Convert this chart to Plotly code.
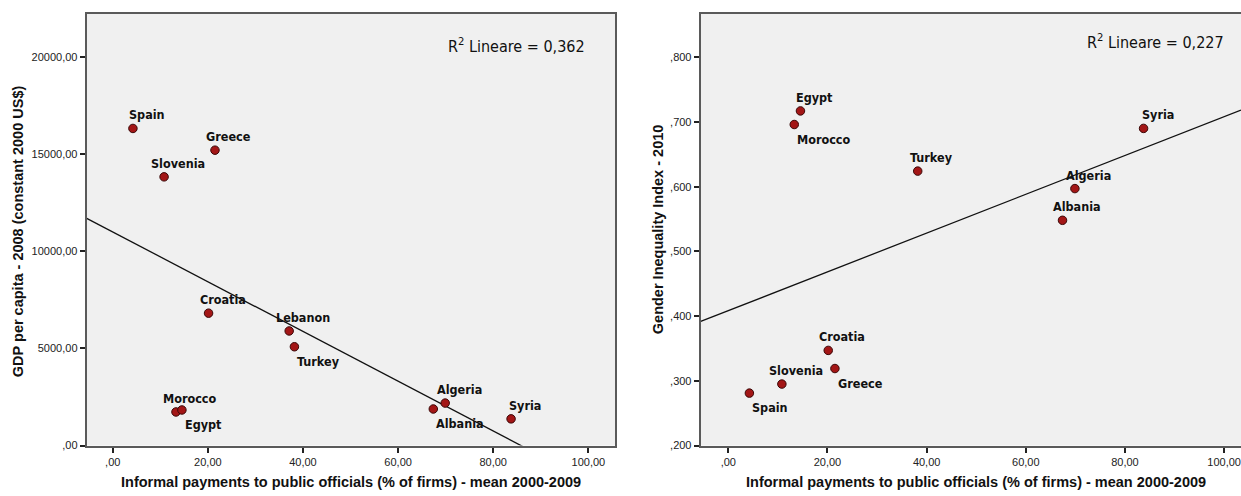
import numpy as np
import plotly.graph_objects as go
from plotly.subplots import make_subplots

# Informal payments to public officials (% of firms), mean 2000-2009
countries_gdp = ["Spain", "Greece", "Slovenia", "Croatia", "Lebanon", "Turkey",
                 "Morocco", "Egypt", "Algeria", "Albania", "Syria"]
payments_gdp = [4.25, 21.5, 10.8, 20.15, 37.1, 38.2, 13.3, 14.55, 69.9, 67.4, 83.75]
# GDP per capita 2008 (constant 2000 US$)
gdp_2008 = [16336, 15216, 13842, 6819, 5903, 5089, 1730, 1832, 2188, 1883, 1374]

countries_gii = ["Egypt", "Morocco", "Syria", "Turkey", "Algeria", "Albania",
                 "Croatia", "Greece", "Slovenia", "Spain"]
payments_gii = [14.55, 13.3, 83.75, 38.2, 69.9, 67.4, 20.15, 21.5, 10.8, 4.25]
# Gender Inequality Index 2010
gii_2010 = [0.717, 0.696, 0.690, 0.624, 0.597, 0.548, 0.347, 0.319, 0.295, 0.281]

r2_labels = ["R<sup>2</sup> Lineare = 0,362", "R<sup>2</sup> Lineare = 0,227"]

x_ticks = [0, 20, 40, 60, 80, 100]
x_ticktext = [",00", "20,00", "40,00", "60,00", "80,00", "100,00"]
gdp_ticks = [0, 5000, 10000, 15000, 20000]
gdp_ticktext = [",00", "5000,00", "10000,00", "15000,00", "20000,00"]
gii_ticks = [0.2, 0.3, 0.4, 0.5, 0.6, 0.7, 0.8]
gii_ticktext = [",200", ",300", ",400", ",500", ",600", ",700", ",800"]

# label placement relative to each point: "u" above, "d" below-right
place_gdp = ["u", "u", "u", "u", "u", "d", "u", "d", "u", "d", "u"]
place_gii = ["u", "d", "u", "u", "u", "u", "u", "d", "u", "d"]

W, H = 1241, 496
BG = "#f0f0f0"
FRAME = "#5a5a5a"
MARK = "#a31616"
LABEL_FONT = '"DejaVu Sans Condensed", "Liberation Sans Narrow", sans-serif'
TEXT_FONT = '"Liberation Sans", Arial, sans-serif'

x1_range = [-5.47, 105.6]
x2_range = [-5.57, 103.4]
y1_range = [0, 22240]
y2_range = [0.2, 0.867]

fig = make_subplots(rows=1, cols=2)

def add_panel(col, xs, ys, xr):
    slope, intercept = np.polyfit(xs, ys, 1)
    lx = np.array(xr)
    fig.add_trace(go.Scatter(x=lx, y=slope * lx + intercept, mode="lines",
                             line=dict(color="#111111", width=1.3),
                             hoverinfo="skip", showlegend=False), row=1, col=col)
    fig.add_trace(go.Scatter(x=xs, y=ys, mode="markers",
                             marker=dict(size=8.5, color=MARK,
                                         line=dict(color="#3a0808", width=1)),
                             showlegend=False), row=1, col=col)

add_panel(1, payments_gdp, gdp_2008, x1_range)
add_panel(2, payments_gii, gii_2010, x2_range)

label_font = dict(family=LABEL_FONT, size=12.5, color="#111111", weight="bold")

def add_labels(xref, yref, names, xs, ys, place):
    for n, x, y, p in zip(names, xs, ys, place):
        if p == "u":
            kw = dict(xanchor="center", yanchor="bottom", xshift=14, yshift=4)
        else:
            kw = dict(xanchor="left", yanchor="top", xshift=1, yshift=-5)
        fig.add_annotation(x=x, y=y, xref=xref, yref=yref, text=n, showarrow=False,
                           font=label_font, **kw)

add_labels("x", "y", countries_gdp, payments_gdp, gdp_2008, place_gdp)
add_labels("x2", "y2", countries_gii, payments_gii, gii_2010, place_gii)

# plot-area geometry in pixels
dom1 = [86.7 / W, 615 / W]
dom2 = [700.7 / W, 1.0]
ydom = [(H - 451) / H, (H - 14) / H]

axis_common = dict(showgrid=False, zeroline=False, showline=True, linecolor=FRAME,
                   linewidth=2, ticks="outside", ticklen=5, tickwidth=1.5,
                   tickcolor="#222222",
                   tickfont=dict(family=TEXT_FONT, size=11, color="#222222"))

fig.update_layout(
    width=W, height=H, margin=dict(l=0, r=0, t=0, b=0),
    paper_bgcolor="white", plot_bgcolor=BG,
    xaxis=dict(domain=dom1, range=x1_range, tickvals=x_ticks, ticktext=x_ticktext,
               mirror=True, **axis_common),
    yaxis=dict(domain=ydom, range=y1_range, tickvals=gdp_ticks, ticktext=gdp_ticktext,
               mirror=True, **axis_common),
    xaxis2=dict(domain=dom2, range=x2_range, tickvals=x_ticks, ticktext=x_ticktext,
                mirror=True, **axis_common),
    yaxis2=dict(domain=ydom, range=y2_range, tickvals=gii_ticks, ticktext=gii_ticktext,
                mirror=False, **axis_common),
)

title_font = dict(family=TEXT_FONT, size=14.5, color="#111111", weight="bold")
xtitle = "Informal payments to public officials (% of firms) - mean 2000-2009"
for cx in [351 / W, 976 / W]:
    fig.add_annotation(x=cx, y=(H - 488) / H, xref="paper", yref="paper",
                       text=xtitle, showarrow=False, font=title_font,
                       xanchor="center", yanchor="middle")

fig.add_annotation(x=18 / W, y=(H - 234) / H, xref="paper", yref="paper",
                   text="GDP per capita - 2008 (constant 2000 US$)", showarrow=False,
                   font=title_font, textangle=-90, xanchor="center", yanchor="middle")
fig.add_annotation(x=658 / W, y=(H - 232) / H, xref="paper", yref="paper",
                   text="Gender Inequality Index - 2010", showarrow=False,
                   font=title_font, textangle=-90, xanchor="center", yanchor="middle")

r2_font = dict(family=LABEL_FONT, size=16, color="#111111")
fig.add_annotation(x=587 / W, y=(H - 46) / H, xref="paper", yref="paper",
                   text=r2_labels[0], showarrow=False, font=r2_font,
                   xanchor="right", yanchor="middle")
fig.add_annotation(x=1226 / W, y=(H - 42) / H, xref="paper", yref="paper",
                   text=r2_labels[1], showarrow=False, font=r2_font,
                   xanchor="right", yanchor="middle")

fig.write_html("out.html")
